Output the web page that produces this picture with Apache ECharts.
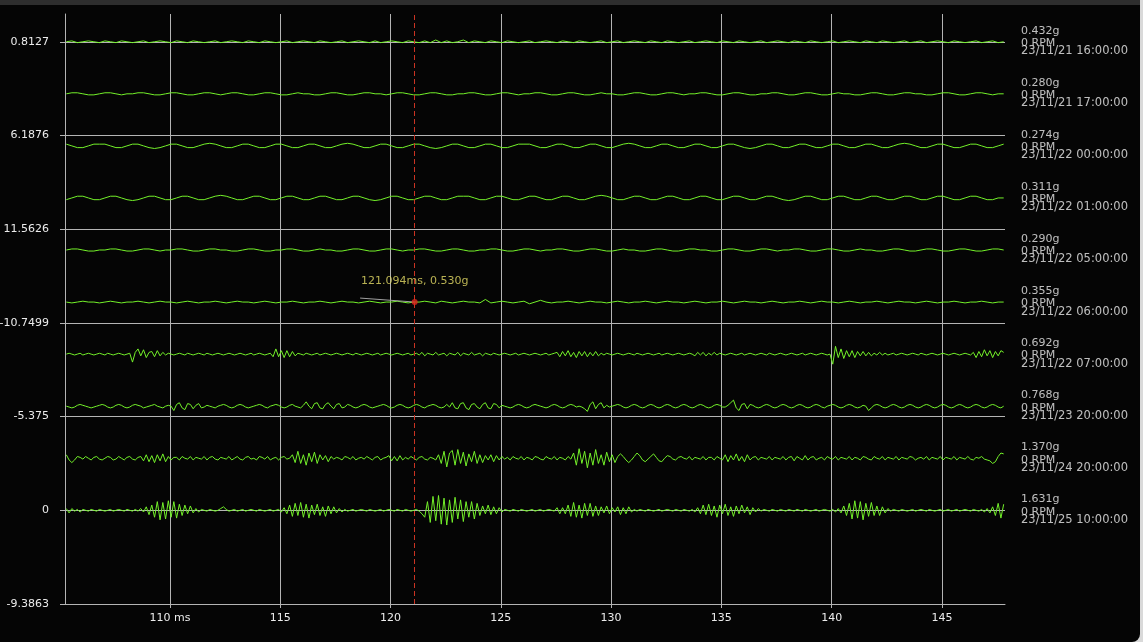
<!DOCTYPE html>
<html><head><meta charset="utf-8">
<script src="https://cdn.jsdelivr.net/npm/echarts@6/dist/echarts.min.js"></script>
<style>
html,body{margin:0;padding:0;background:#d9d9d9;width:1143px;height:642px;overflow:hidden}
#frame{position:absolute;left:0;top:0;width:1140px;height:642px;background:#050505;border-bottom-right-radius:8px;overflow:hidden}
#topbar{position:absolute;left:0;top:0;width:1140px;height:5px;background:#2e2e2e;z-index:2}
#chart{position:absolute;left:0;top:0;width:1140px;height:642px}
</style></head>
<body><div id="frame"><div id="chart"></div><div id="topbar"></div></div>
<script>
// ---------- data ----------
const sampleStart = 105.3;            // ms, first sample of every trace
const waveSteps = [0.25, 0.25, 0.25, 0.25, 0.25, 0.25, 0.125, 0.125, 0.125, 0.125]; // ms per sample
const xMin = 105.24, xMax = 147.86;
const xTickValues = [110, 115, 120, 125, 130, 135, 140, 145];
const xTickLabels = ['110 ms', '115', '120', '125', '130', '135', '140', '145'];
const yGridStep = 54;
const yMax = 340;
const yTickLabels = ['-9.3863', '0', '-5.375', '-10.7499', '11.5626', '6.1876', '0.8127'];
const traceSpacing = 30;
const firstBaseline = 54;   // bottom trace baseline

const peaks = [0.432, 0.280, 0.274, 0.311, 0.290, 0.355, 0.692, 0.768, 1.370, 1.631];
const rpms = [0, 0, 0, 0, 0, 0, 0, 0, 0, 0];
const times = ['23/11/21 16:00:00', '23/11/21 17:00:00', '23/11/22 00:00:00', '23/11/22 01:00:00',
  '23/11/22 05:00:00', '23/11/22 06:00:00', '23/11/22 07:00:00', '23/11/23 20:00:00',
  '23/11/24 20:00:00', '23/11/25 10:00:00'];

const cursorX = 121.094;
const cursorG = 0.530;
const cursorTrace = 5;
const cursorDy = 0;
const leaderEnd = [118.62, 2.3];

const wave1 = [
  0,0.5,-0.5,0,0.5,0,-0.5,0.5,0,-0.5,0.5,0,-0.5,0,0.5,-0.5,0,0.5,0,-0.5,
  0.5,0,-0.5,0.5,0,-0.5,0,0.5,-0.5,0,0.5,0,-0.5,0.5,0,-0.5,0.5,0,-0.5,0,
  0.5,-0.5,0,0.5,0,-0.5,0.5,0,-0.5,0,0.5,-0.5,0,0.5,0,-0.5,0.5,-0.5,0,0.5,
  0,-0.5,0.5,0,-0.5,0.5,-0.5,1,-0.5,0.5,-0.5,0,1,-0.5,0.5,0,-0.5,0.5,0,-0.5,
  0.5,0,-0.5,0,0.5,-0.5,0,0.5,0,-0.5,0.5,0,-0.5,0.5,0,-0.5,0,0.5,-0.5,0,
  0.5,-0.5,0,0.5,0,-0.5,0.5,0,-0.5,0.5,0,-0.5,0,0.5,-0.5,0,0.5,0,-0.5,0.5,
  0,-0.5,0.5,0,-0.5,0,0.5,-0.5,0,0.5,0,-0.5,0.5,0,-0.5,0.5,0,-0.5,0,0.5,
  -0.5,0,0.5,0,-0.5,0.5,0,-0.5,0.5,0,-0.5,0,0.5,-0.5,0,0.5,-0.5,0,0.5,0,
  -0.5,0.5,0,-0.5,0,0.5,-0.5,0,0.5,-0.5,0];
const wave2 = [
  0,0.6,0.6,0,-0.6,-0.6,0,0.6,0.6,0,-0.6,0,0,0.6,0.6,0,-0.6,-0.6,0,0.6,
  0.6,0,-0.6,-0.6,0,0.6,0.6,0,-0.6,0,0.6,0.6,0,-0.6,-0.6,0,0.6,0.6,0,-0.6,
  -0.6,0,0.6,0,0,-0.6,-0.6,0,0.6,0.6,0,-0.6,-0.6,0,0.6,0.6,0,0,-0.6,0,
  0.6,0.6,0,-0.6,-0.6,0,0.6,0.6,0,-0.6,-0.6,0,0,0.6,0.6,0,-0.6,-0.6,0,0.6,
  0.6,0,-0.6,0,0,0.6,0.6,0,-0.6,-0.6,0,0.6,0.6,0,-0.6,-0.6,0,0.6,0,0,
  -0.6,-0.6,0,0.6,0.6,0,-0.6,-0.6,0,0.6,0.6,0,-0.6,0,0,0.6,0.6,0,-0.6,-0.6,
  0,0.6,0.6,0,-0.6,-0.6,0,0,0.6,0.6,0,-0.6,-0.6,0,0.6,0.6,0,-0.6,-0.6,0,
  0.6,0,0,-0.6,-0.6,0,0.6,0.6,0,-0.6,-0.6,0,0.6,0.6,0,0,-0.6,-0.6,0,0.6,
  0.6,0,-0.6,-0.6,0,0.6,0.6,0,-0.6,0,0];
const wave3 = [
  1,0,-1,-1,0,1,1,1,0,-1,-1,0,1,1,0,-1,-1.5,-1,0,1,
  1,0,-1,-1,0,1,1.5,1,0,-1,-1,0,1,1,0,-1,-1,0,1,1,
  0,-1,-1,0,1,1,0,-1,-1,0,1,1.5,1,0,-1,-1,0,1,1,0,
  -1,-1,0,1,1,0,-1,-1.5,-1,0,1,1,0,-1,-1,0,1,1,0,-1,
  -1,0,1,1,1,0,-1,-1,0,1,1,0,-1,-1,0,1,1,0,-1,-1,
  0,1,1.5,1,0,-1,-1,0,1,1,0,-1,-1,0,1,1,0,-1,-1,0,
  1,1,0,-1,-1.5,-1,0,1,1,0,-1,-1,0,1,1,0,-1,-1,0,1,
  1,0,-1,-1,0,1,1,0,-1,-1,0,1,1.5,1,0,-1,-1,0,1,1,
  0,-1,-1,0,1,1,0,-1,-1,0,1];
const wave4 = [
  -1,0,1,1,0,-1,-1,0,1,1,0,-1,-1.5,-1,0,1,1,0,-1,-1,
  0,1,1,0,-1,-1,0,1,1.5,1,0,-1,-1,0,1,1,0,-1,-1,0,
  1,1,0,-1,-1,0,1,1,0,-1,-1,0,1,1,0,-1,-1.5,-1,0,1,
  1,0,-1,-1,0,1,1,0,-1,-1,0,1,1,1,0,-1,-1,0,1,1,
  0,-1,-1,0,1,1,0,-1,-1,0,1,1,0,-1,-1,0,1,1.5,1,0,
  -1,-1,0,1,1,0,-1,-1,0,1,1,0,-1,-1,0,1,1,0,-1,-1,
  0,1,1,0,-1,-1,0,1,1,0,-1,-1.5,-1,0,1,1,0,-1,-1,0,
  1,1,0,-1,-1,0,1,1,0,-1,-1,0,1,1,0,-1,-1,0,1,1,
  0,-1,-1,0,1,1,0,-1,-1,0,0];
const wave5 = [
  0,0.6,0.6,0,-0.6,-0.6,0,0,0.6,0.6,0,-0.6,-0.6,0,0.6,0.6,0,-0.6,0,0,
  0.6,0.6,0,-0.6,-0.6,0,0.6,0.6,0,0,-0.6,-0.6,0,0.6,0.6,0,-0.6,-0.6,0,0,
  0.6,0.6,0,-0.6,-0.6,0,0.6,0,0,-0.6,-0.6,0,0.6,0.6,0,-0.6,-0.6,0,0.6,0.6,
  0,-0.6,0,0,0.6,0.6,0,-0.6,-0.6,0,0.6,0.6,0,-0.6,-0.6,0,0,0.6,0.6,0,
  -0.6,-0.6,0,0.6,0.6,0,-0.6,0,0,0.6,0.6,0,-0.6,-0.6,0,0.6,0.6,0,-0.6,-0.6,
  0,0.6,0,0,-0.6,-0.6,0,0.6,0.6,0,-0.6,-0.6,0,0.6,0.6,0,0,-0.6,-0.6,0,
  0.6,0.6,0,-0.6,-0.6,0,0.6,0.6,0,-0.6,0,0,0.6,0.6,0,-0.6,-0.6,0,0.6,0.6,
  0,-0.6,-0.6,0,0.6,0,0,-0.6,-0.6,0,0.6,0.6,0,-0.6,-0.6,0,0.6,0.6,0,-0.6,
  -0.6,0,0.6,0.6,0,-0.6,-0.6,0,0.6,0.6,0];
const wave6 = [
  0,-0.5,0,0.5,0,0,-0.5,0,0.5,0,-0.5,0,0,0.5,0,-0.5,0,0.5,0,0,
  -0.5,0,0.5,0,-0.5,0,0,0.5,0,-0.5,0,0.5,0,0,-0.5,0,0.5,0,-0.5,0,
  0,0.5,0,-0.5,0,0,0.5,0,-0.5,0,0.5,0,0,-0.5,0,0.5,0,-0.5,0,0,
  0.5,0,-0.5,0,0,0.5,0,-0.5,0.5,0,-0.5,0,0.5,0,0,-0.5,1.5,-0.5,0,0.5,
  0,-0.5,0,0.5,-1,0,1,0,-0.5,0,0,0.5,0,-0.5,0,0.5,0,0,-0.5,0,
  0.5,0,-0.5,0,0,0.5,0,-0.5,0,0.5,0,0,-0.5,0,0.5,0,-0.5,0,0,0.5,
  0,-0.5,0,0.5,0,0,-0.5,0,0.5,0,-0.5,0,0,0.5,0,-0.5,0,0.5,0,0,
  -0.5,0,0.5,0,-0.5,0,0,0.5,0,-0.5,0,0.5,0,0,-0.5,0,0.5,0,-0.5,0,
  0,0.5,0,-0.5,0,0,0.5,0,-0.5,0,0];
const wave7 = [
  0,0.5,0,-0.5,0,0.5,-0.5,0,0.5,0,-0.5,0,0.5,0,-0.5,0.5,0,-0.5,0,0.5,
  0,-0.5,0,0.5,-4.6,1,3,-1,2.5,-2,1,1.5,-1.5,2,-1,1,-0.5,0.5,0,-0.5,
  0,0.5,0,-0.5,0.5,0,-0.5,0,0.5,0,-0.5,0.5,0,-0.5,0,0.5,0,-0.5,0,0.5,
  0,-0.5,0,0.5,0,-0.5,0,0.5,-0.5,0,0.5,0,-0.5,0,0.5,-1.5,3,-1.5,2,-2,
  2,-1.5,1.5,-1,0.5,0,-0.5,0.5,0,-0.5,0,0.5,-0.5,0,0.5,0,-0.5,0,0.5,0,
  -0.5,0,0.5,0,-0.5,0.5,0,-0.5,0,0.5,0,-0.5,0,0.5,-0.5,0,0.5,0,-0.5,0,
  0.5,0,-0.5,0,0.5,-0.5,0,0.5,-0.5,1,-1,0.5,0,-0.5,1,-0.5,0,0.5,-1,0.5,
  0,-0.5,1,-1,0.5,0,-0.5,1,-0.5,0,0.5,-1,0.5,0,-0.5,0.5,0,-0.5,0,0.5,
  0,-0.5,0,0.5,-0.5,0,0.5,0,-0.5,0,0.5,0,-0.5,0,0.5,-0.5,0,0.5,1,-1.5,
  1.5,-1,2,-1.5,1,-2,1.5,-1,1.5,-1.5,1,-1,1.5,-1,0.5,-0.5,0.5,0,-0.5,0,
  0.5,0,-0.5,0,0.5,0,-0.5,0.5,0,-0.5,0,0.5,0,-0.5,0,0.5,-0.5,0,0.5,0,
  -0.5,0,0.5,0,-0.5,0,0.5,0,-1,1,-0.5,1,-1,0.5,-0.5,1,-0.5,0.5,0,-0.5,
  0,0.5,0,-0.5,0,0.5,-0.5,0,0.5,0,-0.5,0,0.5,0,-0.5,0.5,0,-0.5,0,0.5,
  0,-0.5,0,0.5,0,-0.5,0,0.5,-0.5,0,0.5,0,-0.5,0,0.5,0,-0.5,0,-5.8,4.5,
  -2,3,-2.5,2,-1.5,2,-2,1.5,-1,1.5,-1,1,-1,0.5,-0.5,1,-0.5,0.5,-0.5,0,
  0.5,-0.5,0,0.5,0,-0.5,0,0.5,0,-0.5,0.5,0,-0.5,0,0.5,0,-0.5,0,0.5,0,
  -0.5,0,0.5,0,-0.5,0,0.5,0,-0.5,1,-2,1.5,-1.5,2.5,-1,2,-2,1.5,-1,2,
  1];
const wave8 = [
  0,-0.5,-1,-0.5,0.5,1,0.5,0,-0.5,-1,-0.5,0,0.5,1,0.5,-0.5,-1,-0.5,0.5,1,
  0.5,-0.5,-1,-0.5,0.5,1,0.5,0,-1,-0.5,0,0.5,1,0,-0.5,-1,0,0.5,0,-2.5,
  1,2,-1,-2,1.5,1,-1.5,0.5,1.5,-1,-0.5,0.5,0,-0.5,-1,0,0.5,1,0.5,-0.5,
  -1,-0.5,0.5,1,0.5,-0.5,-1,-0.5,0,0.5,1,0.5,-0.5,-1,0,0.5,1,0.5,-0.5,-1,
  -0.5,0.5,1,0,-0.5,-1,0.5,2.5,0,-1.5,1.5,2,-1,-1.5,1,2,0,-1.5,1,1.5,
  -1,-0.5,1,0.5,-0.5,-1,-0.5,0.5,1,0.5,-0.5,-1,-0.5,0,0.5,1,0.5,-0.5,-1,-0.5,
  0.5,1,0.5,-0.5,-1,-0.5,0.5,1,0.5,-0.5,-1,0,0.5,1,0.5,-0.5,-1,-0.5,1,-0.5,
  2,-1,-1.5,1.5,2,-1,-2,1,1.5,-0.5,-1.5,1,2,-1,-1.5,1.5,1,-1,0.5,0,
  -0.5,-1,-0.5,0.5,1,0.5,-0.5,-1,-0.5,0.5,1,0.5,0,-0.5,-1,-0.5,0.5,1,0.5,-0.5,
  -1,-0.5,0.5,1,0.5,-0.5,0,-0.5,-1.5,-3,1,2.5,-1.5,1,2,-1,0.5,-0.5,0,0.5,
  1,0.5,-0.5,-1,-0.5,0.5,1,0.5,-0.5,-1,-0.5,0.5,1,0.5,-0.5,-1,-0.5,0.5,1,0.5,
  -0.5,-1,-0.5,0.5,1,0.5,-0.5,-1,-0.5,0.5,1,0.5,-0.5,-1,-0.5,0.5,1,0.5,-0.5,-0.5,
  0.5,2,3.5,-1,-2.5,1,1.5,-1.5,1,0.5,-0.5,-1,-0.5,0.5,1,0.5,-0.5,-1,-0.5,0.5,
  1,0.5,-0.5,-1,-0.5,0.5,1,0.5,-0.5,-1,-0.5,0.5,1,0.5,-0.5,-1,0,0.5,1,0.5,
  -0.5,-1,-0.5,0.5,1,0.5,-0.5,-1,-0.5,0.5,0,-2.5,-1,0.5,1,0.5,-0.5,-1,-0.5,0.5,
  1,0.5,-0.5,-1,-0.5,0.5,1,0.5,-0.5,-1,-0.5,0.5,1,0.5,-0.5,-1,-0.5,0.5,1,0.5,
  -0.5,-1,-0.5,0.5,1,0.5,-0.5,-1,-0.5,0.5,1,0.5,-0.5,-1,-0.5,0.5,1,0.5,-0.5,-1,
  0];
const wave9 = [
  2,-1,-2.5,-1,1,0.5,-0.5,1,0,-1,0.5,1,-0.5,-1,0,1,0.5,-1,-0.5,1,
  0,-1,0.5,1,-0.5,-1,0.5,1,-1.5,2,-2,1.5,-2.5,2,-1.5,2.5,-2,1,-1,0.5,
  0.5,-1,1,0,-0.5,1,-1,0.5,0,-0.5,1,-1,0.5,1,-0.5,-1,0.5,0,-0.5,1,
  -1,0,1,-0.5,-1,0.5,1,-0.5,0,-1,1,0.5,-0.5,1,-1,0,0.5,-1,0.5,1,
  -0.5,0,2,-2.5,4,-3,2,-4,3,-2,3.5,-3,2,-1,1.5,-2,1,-0.5,0.5,0,
  -1,1,0.5,-0.5,1,-1,0,0.5,-0.5,1,0,-1,0.5,1,-1,0,0.5,1.5,-1.5,1,
  -1.5,1.5,-1,0.5,-0.5,1,0,-1,0.5,1,-0.5,-1,0.5,0,-1,2,-3,4,-5,3,
  4.5,-4,5,-3,3.5,-4.5,2.5,-2,4,-3,2,-2.5,1.5,-1,2,-2,1.5,-1,1,-0.5,
  0.5,-1,1,0,-0.5,1,-1,0.5,0,-1,1,0.5,-0.5,-1,1,0,-0.5,1,-1,0.5,
  0,-1,1,-0.5,3,-4,5.5,-3,4,-5.5,3,-4,5,-3,2,-4,3.5,-2,2,-2.5,
  1,2.5,1,-1,-2.5,-1,1,3,1.5,-1,-2,-0.5,1,2.5,0.5,-1.5,-2,0,1.5,1,
  -0.5,-1,0.5,1,0,-0.5,1,-1,0.5,0,-0.5,1,-1,0.5,0.5,-1,1,0,-1,2,
  -2,1.5,-1,2.5,-1.5,1,-2,2,-1,0.5,1,-1,0.5,0,-0.5,1,-1,0.5,0,-0.5,
  1,-1,0.5,1,-1.5,1,0,-1,1.5,-1,0.5,1,-1,0,0.5,-1,1,0,-0.5,1,
  -1,0.5,0,-0.5,1,-1,0.5,0,-1,1,0.5,-0.5,-1,1,0,-0.5,1,-1,0.5,0,
  -0.5,1,-1,0.5,0,-0.5,1,0.5,-1,0,0.5,-0.5,1,-1,0.5,0,-0.5,1,-1,0.5,
  0,-0.5,1,-1,0.5,0,-0.5,1,-0.5,-1,0.5,0,1,-0.5,-1,-1.5,-3,-2,1,3,
  2.5];
const wave10 = [
  1,-1.5,1,-0.5,0.5,-1,0.5,0,-0.5,0.5,0,-0.5,0.5,0,-0.5,0,0.5,-0.5,0,0.5,
  0,-0.5,0.5,0,-0.5,0.5,-0.5,1,-1,2,-2.5,3,-4,5,-5.5,4.5,-5,5.5,-4,5,
  -4.5,3.5,-3,3,-2,2.5,-1.5,1,-1,0.5,0,-0.5,0.5,0,-0.5,0,1,2,0.5,-0.5,
  0,0.5,-0.5,0,0.5,-0.5,0,0.5,0,-0.5,0.5,0,-0.5,0,0.5,-0.5,0,0.5,-1,1.5,
  -2,3,-3.5,4,-3,4.5,-4,3.5,-4.5,3,-2.5,3.5,-3,2,-3.5,2.5,-2,2,-1.5,1,
  -1,0.5,-0.5,0,0.5,-0.5,0,0.5,0,-0.5,0.5,0,-0.5,0,0.5,-0.5,0,0.5,0,-0.5,
  0.5,0,-0.5,0.5,0,-0.5,0,0.5,-0.5,-2,-4,5,-7,8,-6,8.5,-8,7,-8.5,6,
  -7,7.5,-5,6,-6.5,5,-4,5,-5,4,-3,2.5,-2,3,-2.5,2,-2,1.5,-1,0.5,
  0,-0.5,0.5,0,-0.5,0.5,0,-0.5,0,0.5,-0.5,0,0.5,-0.5,0,0.5,0,-0.5,1.5,-2,
  1.5,-2,3,-3.5,4.5,-4,3,-4.5,4,-3,4,-3.5,2.5,-3,2,-1.5,2.5,-2,1.5,-1,
  2,-2.5,1.5,-2,2,-1,0.5,-0.5,0.5,0,-0.5,0.5,0,-0.5,0,0.5,-0.5,0,0.5,0,
  -0.5,0.5,0,-0.5,0.5,0,-0.5,0.5,-1,1.5,-2,3,-2.5,3.5,-3,2.5,-4,3,-2,3.5,
  -3,2,-3.5,2.5,-2,3,-1.5,2,-2.5,1.5,-1,1,-0.5,0.5,0,-0.5,0.5,0,-0.5,0.5,
  0,-0.5,0.5,0,-0.5,0.5,0,-0.5,0.5,0,-0.5,0,0.5,-0.5,0,0.5,0,-0.5,0.5,-1,
  1,-1.5,2.5,-3,4,-5,5.5,-4.5,5,-5.5,4,-3.5,4.5,-3,2.5,-3,2,-1.5,1,-0.5,
  0.5,0,-0.5,0.5,0,-0.5,0,0.5,-0.5,0,0.5,0,-0.5,0.5,0,-0.5,0,0.5,-0.5,0,
  0.5,-0.5,0,0.5,-0.5,0,0.5,0,-0.5,0.5,0,-0.5,0.5,-1,1,-1.5,2,-3,4,-4.5,
  3.5];

const waves = [wave1, wave2, wave3, wave4, wave5, wave6, wave7, wave8, wave9, wave10];

// ---------- build ----------
const n = waves.length;
const baselines = waves.map((w, k) => firstBaseline + (n - 1 - k) * traceSpacing);
const gridColor = '#b4b4b4';
const textColor = '#ececec';
const font = 'DejaVu Sans';

const lineSeries = waves.map((w, k) => ({
  type: 'line',
  name: times[k],
  data: w.map((v, i) => [+(sampleStart + i * waveSteps[k]).toFixed(4), baselines[k] + v]),
  showSymbol: false,
  symbol: 'none',
  lineStyle: { color: '#74f22a', width: 1 },
  z: 3,
  silent: true
}));

const dotY = baselines[cursorTrace] + cursorDy;

const option = {
  backgroundColor: 'transparent',
  animation: false,
  textStyle: { fontFamily: font },
  grid: { left: 65, right: 135, top: 14, bottom: 38, containLabel: false, outerBoundsMode: 'none' },
  xAxis: {
    type: 'value', min: xMin, max: xMax, splitNumber: 8,
    axisLine: { show: true, lineStyle: { color: gridColor, width: 1 } },
    axisTick: { show: true, length: 4, lineStyle: { color: gridColor } },
    axisLabel: {
      color: textColor, fontSize: 11, fontFamily: font, margin: 9,
      showMinLabel: false, showMaxLabel: false,
      formatter: v => {
        const k = xTickValues.findIndex(t => Math.abs(t - v) < 1e-6);
        return k >= 0 ? xTickLabels[k] : '';
      }
    },
    splitLine: { show: true, showMinLine: false, showMaxLine: false, lineStyle: { color: gridColor, width: 1 } }
  },
  yAxis: {
    type: 'value', min: 0, max: yMax, interval: yGridStep,
    axisLine: { show: true, lineStyle: { color: gridColor, width: 1 } },
    axisTick: { show: true, length: 5, lineStyle: { color: gridColor } },
    axisLabel: {
      color: textColor, fontSize: 11, fontFamily: font, margin: 16,
      showMaxLabel: false,
      formatter: v => {
        const q = v / yGridStep;
        if (Math.abs(q - Math.round(q)) > 1e-6) return '';
        return yTickLabels[Math.round(q)] || '';
      }
    },
    splitLine: { show: true, showMaxLine: false, lineStyle: { color: gridColor, width: 1 } }
  },
  series: [
    ...lineSeries,
    {
      type: 'scatter',
      clip: false,
      symbolSize: 0,
      silent: true,
      data: baselines.map(b => [xMax, b]),
      label: {
        show: true, position: 'right', distance: 16, offset: [0, -3],
        color: textColor, fontFamily: font, fontSize: 11,
        formatter: p => {
          const k = p.dataIndex;
          return `{a|${peaks[k].toFixed(3)}g}\n{b|${rpms[k]} RPM}\n{c|${times[k]}}`;
        },
        rich: {
          a: { color: textColor, fontFamily: font, fontSize: 11, lineHeight: 23 },
          b: { color: textColor, fontFamily: font, fontSize: 11, lineHeight: 2 },
          c: { color: textColor, fontFamily: font, fontSize: 11.5, lineHeight: 14 }
        }
      }
    },
    {
      type: 'scatter',
      clip: false,
      silent: true,
      symbol: 'circle',
      symbolSize: 6,
      itemStyle: { color: '#e0281e' },
      z: 6,
      data: [[cursorX, dotY]],
      label: {
        show: true, position: 'top', distance: 12,
        color: '#e6dd66', fontFamily: font, fontSize: 11,
        formatter: () => `${cursorX.toFixed(3)}ms, ${cursorG.toFixed(3)}g`
      },
      markLine: {
        silent: true, symbol: ['none', 'none'], label: { show: false },
        animation: false,
        data: [
          { xAxis: cursorX, lineStyle: { color: '#cc3322', type: [5, 3], width: 1 } },
          [
            { coord: [cursorX, dotY], lineStyle: { color: '#a0a0a0', type: 'solid', width: 1 } },
            { coord: [leaderEnd[0], dotY + leaderEnd[1]] }
          ]
        ]
      }
    }
  ]
};

const chart = echarts.init(document.getElementById('chart'), null, { renderer: 'canvas' });
chart.setOption(option);
</script>
</body></html>
